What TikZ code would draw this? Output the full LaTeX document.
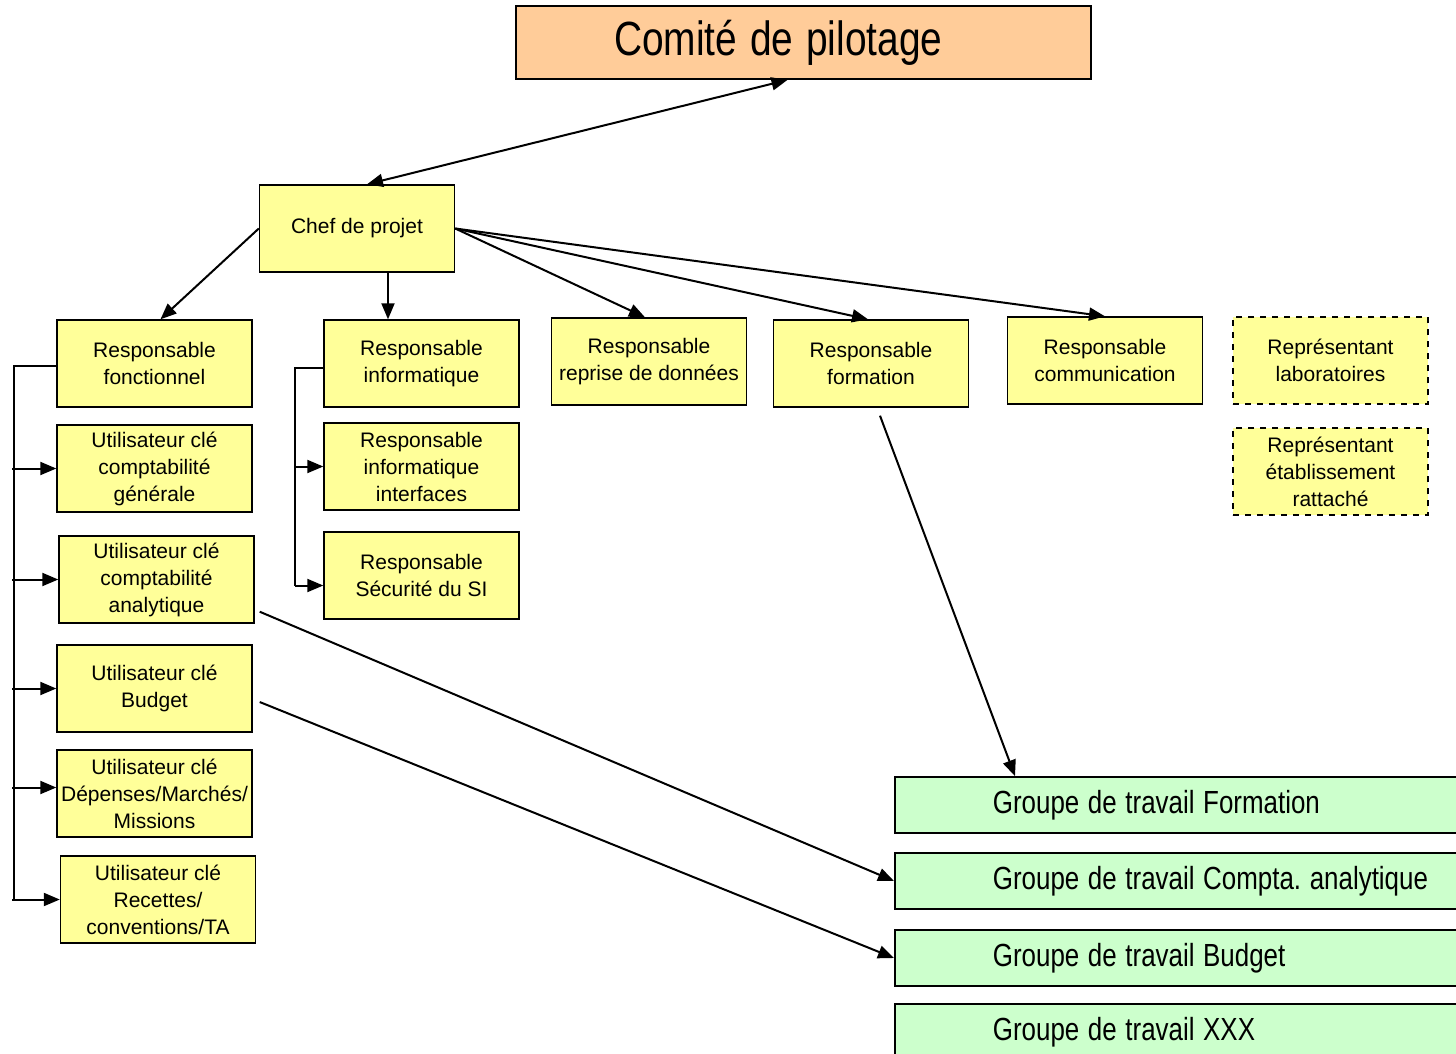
\documentclass[tikz,border=0pt]{standalone}
\usepackage{fontspec}
\setmainfont{Liberation Sans}
\usepackage{graphicx}
\usepackage{tikz}
\usetikzlibrary{arrows.meta,calc}
\frenchspacing
\def\etroit#1{\scalebox{0.81}[1]{#1}}
\definecolor{jaune}{HTML}{FFFF99}
\definecolor{orange}{HTML}{FFCC99}
\definecolor{vert}{HTML}{CCFFCC}
\tikzset{
	boite/.style={draw, fill=jaune, line width=0.7pt, minimum width=97.5pt, minimum height=43.5pt, inner sep=0pt, align=center, font=\fontsize{10.5}{13.5}\selectfont},
	pointille/.style={boite, dashed},
	groupe/.style={draw, fill=vert, line width=0.9pt, anchor=west, minimum height=28pt, inner xsep=49pt, inner ysep=0pt, text width=240pt, align=left, font=\fontsize{16}{19}\selectfont},
	fleche/.style={-{Triangle[length=8pt,width=6.5pt]}, line width=1pt},
	fleches/.style={{Triangle[length=8pt,width=6.5pt]}-{Triangle[length=8pt,width=6.5pt]}, line width=1pt},
	trait/.style={line width=0.8pt}
}

\begin{document}
\begin{tikzpicture}[x=0.5pt, y=-0.5pt]
			%%%%% START %%%%%
			\useasboundingbox (0,0) rectangle (1456,1054);
			
			\node[draw, fill=orange, line width=0.9pt, minimum width=287.5pt, minimum height=36.5pt, inner xsep=49pt, inner ysep=0pt, text width=189.5pt, align=left, font=\fontsize{24}{28}\selectfont] (comite) at (803.5, 42.5) {\etroit{Comité de pilotage}};
			\node[boite] (chef) at (357, 228.5) {Chef de projet};
			
			% colonne de gauche
			\node[boite] (rfonc) at (154.5, 363.5) {Responsable\\fonctionnel};
			\node[boite] (ucg) at (154.5, 468.5) {Utilisateur clé\\comptabilité\\générale};
			\node[boite] (uca) at (156.5, 579.5) {Utilisateur clé\\comptabilité\\analytique};
			\node[boite] (ubud) at (154.5, 688.5) {Utilisateur clé\\Budget};
			\node[boite] (udep) at (154.5, 793.5) {Utilisateur clé\\Dépenses/Marchés/\\Missions};
			\node[boite] (urec) at (158, 899.5) {Utilisateur clé\\Recettes/\\conventions/TA};
			
			% informatique
			\node[boite] (rinfo) at (421.5, 363.5) {Responsable\\informatique};
			\node[boite] (rint) at (421.5, 466.5) {Responsable\\informatique\\interfaces};
			\node[boite] (rsec) at (421.5, 575.5) {Responsable\\Sécurité du SI};
			
			\node[boite] (rrep) at (649, 361.5) {Responsable\\reprise de données};
			\node[boite] (rform) at (871, 363.5) {Responsable\\formation};
			\node[boite] (rcom) at (1105, 360.5) {Responsable\\communication};
			\node[pointille] (rlab) at (1330.5, 360.5) {Représentant\\laboratoires};
			\node[pointille] (retab) at (1330.5, 471.5) {Représentant\\établissement\\rattaché};
			
			% groupes de travail
			\node[groupe] (gform) at (894, 805) {\etroit{Groupe de travail Formation}};
			\node[groupe] (gcompta) at (894, 881) {\etroit{Groupe de travail Compta. analytique}};
			\node[groupe] (gbud) at (894, 958) {\etroit{Groupe de travail Budget}};
			\node[groupe] (gxxx) at (894, 1032) {\etroit{Groupe de travail XXX}};
			
			% liaisons
			\draw[fleches] ([xshift=-8pt]comite.south) -- ([xshift=5pt]chef.north);
			\draw[fleche] (chef.west) -- ([xshift=3pt]rfonc.north);
			\draw[fleche] ([xshift=15.5pt]chef.south) -- ([xshift=15.5pt]chef.south |- rinfo.north);
			\draw[fleche] (chef.east) -- ([xshift=-2pt]rrep.north);
			\draw[fleche] (chef.east) -- ([xshift=-1.5pt]rform.north);
			\draw[fleche] (chef.east) -- (rcom.north);
			\draw[fleche] ([shift={(4.5pt,-4pt)}]rform.south) -- ([xshift=60.5pt]gform.north west);
			\draw[fleche] ([shift={(2.5pt,6pt)}]uca.south east) -- (gcompta.west);
			\draw[fleche] ([shift={(3.5pt,-6.75pt)}]ubud.east) -- (gbud.west);
			
			% accolade de gauche
			\coordinate (gauche) at (14, 366);
			\draw[trait] (rfonc.west |- gauche) -- (gauche) -- (gauche |- urec.west);
			\foreach \n in {ucg, uca, ubud, urec}
				\draw[fleche] ([xshift=-1pt]gauche |- \n.west) -- (\n.west);
			\draw[fleche] ([xshift=-1pt, yshift=3pt]gauche |- udep.west) -- ([yshift=3pt]udep.west);
			
			% accolade informatique
			\coordinate (milieu) at (295, 368);
			\draw[trait] (rinfo.west |- milieu) -- (milieu) -- ([yshift=-5pt]milieu |- rsec.west);
			\draw[fleche] (milieu |- rint.west) -- (rint.west);
			\draw[fleche] ([yshift=-5pt]milieu |- rsec.west) -- ([yshift=-5pt]rsec.west);
			%%%%% END %%%%%
\end{tikzpicture}
\end{document}
